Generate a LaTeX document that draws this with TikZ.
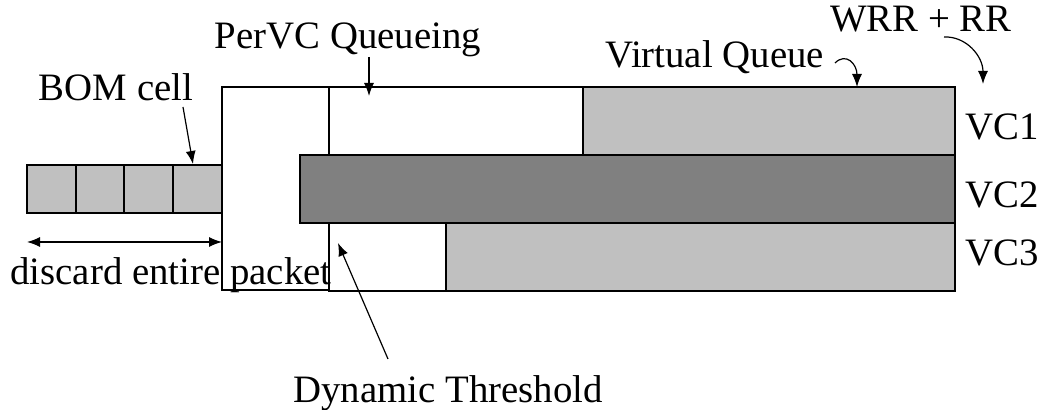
\documentclass[tikz,border=0pt]{standalone}
\usepackage{fontspec}
\setmainfont{Liberation Serif}
\usetikzlibrary{arrows.meta}
\definecolor{lightq}{HTML}{C0C0C0}
\definecolor{darkq}{HTML}{808080}
\begin{document}
\begin{tikzpicture}[x=0.5pt,y=-0.5pt,
  box/.style={draw=black,line width=0.8pt},
  lbl/.style={inner sep=0pt,font=\fontsize{19.4pt}{23pt}\selectfont},
  arr/.style={line width=0.6pt,-{Latex[length=6.5pt,width=5pt]}},
  darr/.style={line width=0.6pt,{Latex[length=6.5pt,width=5pt]}-{Latex[length=6.5pt,width=5pt]}}]
\useasboundingbox (0,0) rectangle (1041,410);
% big white box
\draw[box,fill=white] (222,87) rectangle (329,290);
% cells
\foreach \i/\x in {1/27,2/76,3/124,4/173}{
  \pgfmathsetmacro{\xe}{\x+49}
  \draw[box,fill=lightq] (\x,165) rectangle (\xe,213);
}
\coordinate (bomtop) at (193,164);
% VC1
\draw[box,fill=white] (329,87) rectangle (583,155);
\draw[box,fill=lightq] (583,87) rectangle (955,155);
% VC3
\draw[box,fill=white] (329,223) rectangle (446,291);
\draw[box,fill=lightq] (446,223) rectangle (955,291);
% VC2
\draw[box,fill=darkq] (300,155) rectangle (955,223);
% labels
\node[lbl,anchor=base] (bom) at (116,101) {BOM cell};
\node[lbl,anchor=base] (pervc) at (348,49) {PerVC Queueing};
\node[lbl,anchor=base west] (vq) at (605,68) {Virtual Queue};
\node[lbl,anchor=base] (wrr) at (921,32) {WRR + RR};
\node[lbl,anchor=base west] (vc1) at (965,140) {VC1};
\node[lbl,anchor=base west] (vc2) at (965,208) {VC2};
\node[lbl,anchor=base west] (vc3) at (965,266) {VC3};
\node[lbl,anchor=base west] (disc) at (10,285) {discard entire packet};
\node[lbl,anchor=base] (dyn) at (448,403) {Dynamic Threshold};
% coordinates for connectors
\coordinate (bomfrom) at (183,107);
\coordinate (pvfrom) at (369,57);
\coordinate (pvto) at (369,96);
\coordinate (vqfrom) at (835,63);
\coordinate (vqto) at (857,87);
\coordinate (wrrfrom) at (944,37);
\coordinate (wrrto) at (983,84);
\coordinate (dyfrom) at (388,359);
\coordinate (dyto) at (338,243);
\coordinate (dl) at (27,242);
\coordinate (dr) at (222,242);
% connectors
\draw[arr] (bomfrom) -- (bomtop);
\draw[arr] (pvfrom) -- (pvto);
\draw[arr] (vqfrom) .. controls (846,52) and (857,64) .. (vqto);
\draw[arr] (wrrfrom) .. controls (966,36) and (983,56) .. (wrrto);
\draw[arr] (dyfrom) -- (dyto);
\draw[darr] (dl) -- (dr);
\end{tikzpicture}
\end{document}
